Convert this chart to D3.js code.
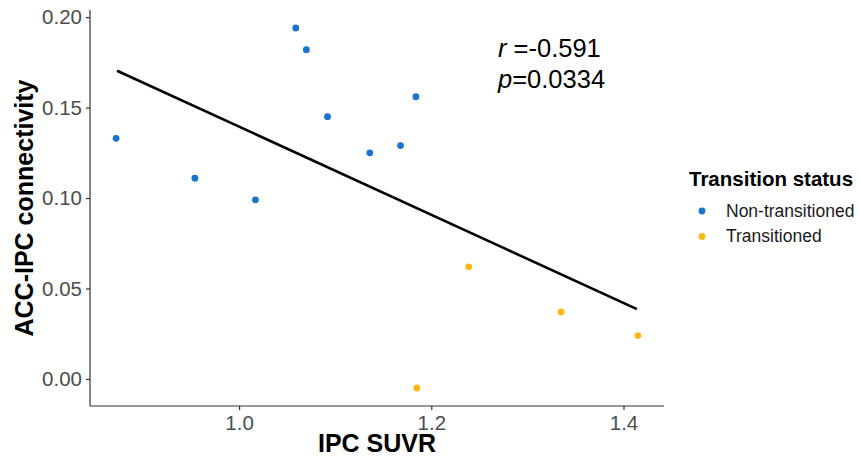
<!DOCTYPE html>
<html>
<head>
<meta charset="utf-8">
<script src="https://cdn.jsdelivr.net/npm/d3@7"></script>
<style>
  body { margin: 0; background: #fff; }
  #chart { width: 859px; height: 458px; }
  text { font-family: "Liberation Sans", Arial, sans-serif; }
</style>
</head>
<body>
<div id="chart"></div>
<script>
// Values
const suvr = [0.872, 0.954, 1.017, 1.059, 1.070, 1.092, 1.136, 1.168, 1.184,
  1.239, 1.335, 1.415, 1.185];
const connectivity = [0.133, 0.111, 0.099, 0.194, 0.182, 0.145, 0.125, 0.129, 0.156,
  0.062, 0.037, 0.024, -0.005];
const status = ["Non-transitioned", "Non-transitioned", "Non-transitioned", "Non-transitioned",
  "Non-transitioned", "Non-transitioned", "Non-transitioned", "Non-transitioned", "Non-transitioned",
  "Transitioned", "Transitioned", "Transitioned", "Transitioned"];

const groups = ["Non-transitioned", "Transitioned"];
const groupColors = ["#1874CD", "#FFB90F"];

// fitted line end points
const fitX = [0.873, 1.414];
const fitY = [0.1704, 0.0386];

const xTicks = [1.0, 1.2, 1.4];
const yTicks = [0.00, 0.05, 0.10, 0.15, 0.20];

const width = 859;
const height = 458;
const margin = { top: 10, right: 195, bottom: 52, left: 90 };
const innerWidth = width - margin.left - margin.right;
const innerHeight = height - margin.top - margin.bottom;

const points = suvr.map((v, i) => ({ x: v, y: connectivity[i], group: status[i] }));

const svg = d3.select("#chart")
  .append("svg")
  .attr("width", width)
  .attr("height", height);

const chart = svg.append("g")
  .attr("transform", `translate(${margin.left},${margin.top})`);

// ggplot-like 5% expansion
const xExt = d3.extent(suvr);
const yExt = d3.extent(connectivity);
const xPad = (xExt[1] - xExt[0]) * 0.05;
const yPad = (yExt[1] - yExt[0]) * 0.05;

const x = d3.scaleLinear()
  .domain([xExt[0] - xPad, xExt[1] + xPad])
  .range([0, innerWidth]);

const y = d3.scaleLinear()
  .domain([yExt[0] - yPad, yExt[1] + yPad])
  .range([innerHeight, 0]);

const color = d3.scaleOrdinal().domain(groups).range(groupColors);

chart.append("g")
  .attr("transform", `translate(0,${innerHeight})`)
  .call(d3.axisBottom(x).tickValues(xTicks).tickSize(4).tickPadding(5).tickFormat(d3.format(".1f")))
  .call((g) => g.select(".domain").attr("d", `M0,0H${innerWidth}`))
  .call((g) => g.selectAll("line, path").attr("stroke", "#333").attr("stroke-width", 1.2))
  .call((g) => g.selectAll("text")
    .attr("fill", "#4d4d4d")
    .style("font-size", "20.5px"));

chart.append("g")
  .call(d3.axisLeft(y).tickValues(yTicks).tickSize(4).tickPadding(4).tickFormat(d3.format(".2f")))
  .call((g) => g.select(".domain").attr("d", `M0,0V${innerHeight}`))
  .call((g) => g.selectAll("line, path").attr("stroke", "#333").attr("stroke-width", 1.2))
  .call((g) => g.selectAll("text")
    .attr("fill", "#4d4d4d")
    .style("font-size", "20.5px"));

// regression line
chart.append("line")
  .attr("x1", x(fitX[0]))
  .attr("y1", y(fitY[0]))
  .attr("x2", x(fitX[1]))
  .attr("y2", y(fitY[1]))
  .attr("stroke", "#000")
  .attr("stroke-width", 2.6);

chart.selectAll("circle")
  .data(points)
  .enter()
  .append("circle")
  .attr("cx", (d) => x(d.x))
  .attr("cy", (d) => y(d.y))
  .attr("r", 3.4)
  .attr("fill", (d) => color(d.group));

// axis titles
chart.append("text")
  .attr("x", innerWidth / 2)
  .attr("y", innerHeight + 46)
  .attr("text-anchor", "middle")
  .attr("fill", "#000")
  .attr("font-size", 25)
  .attr("font-weight", 700)
  .text("IPC SUVR");

chart.append("text")
  .attr("transform", "rotate(-90)")
  .attr("x", -innerHeight / 2)
  .attr("y", -57)
  .attr("text-anchor", "middle")
  .attr("fill", "#000")
  .attr("font-size", 25)
  .attr("font-weight", 700)
  .text("ACC-IPC connectivity");

// correlation annotation
const note = svg.append("text")
  .attr("x", 498)
  .attr("y", 57)
  .attr("fill", "#000")
  .attr("font-size", 25.5);
note.append("tspan").attr("font-style", "italic").text("r");
note.append("tspan").text(" =-0.591");

const note2 = svg.append("text")
  .attr("x", 498)
  .attr("y", 88)
  .attr("fill", "#000")
  .attr("font-size", 25.5);
note2.append("tspan").attr("font-style", "italic").text("p");
note2.append("tspan").text("=0.0334");

// legend
const legend = svg.append("g")
  .attr("transform", "translate(689,0)");

legend.append("text")
  .attr("x", 0)
  .attr("y", 186)
  .attr("fill", "#000")
  .attr("font-size", 20.5)
  .attr("font-weight", 700)
  .text("Transition status");

const item = legend.selectAll(".item")
  .data(groups)
  .enter()
  .append("g")
  .attr("class", "item")
  .attr("transform", (d, i) => `translate(0,${211 + i * 25.5})`);

item.append("circle")
  .attr("cx", 13)
  .attr("cy", 0)
  .attr("r", 3.4)
  .attr("fill", (d) => color(d));

item.append("text")
  .attr("x", 37)
  .attr("y", 5.5)
  .attr("fill", "#1a1a1a")
  .attr("font-size", 17.5)
  .text((d) => d);
</script>
</body>
</html>
